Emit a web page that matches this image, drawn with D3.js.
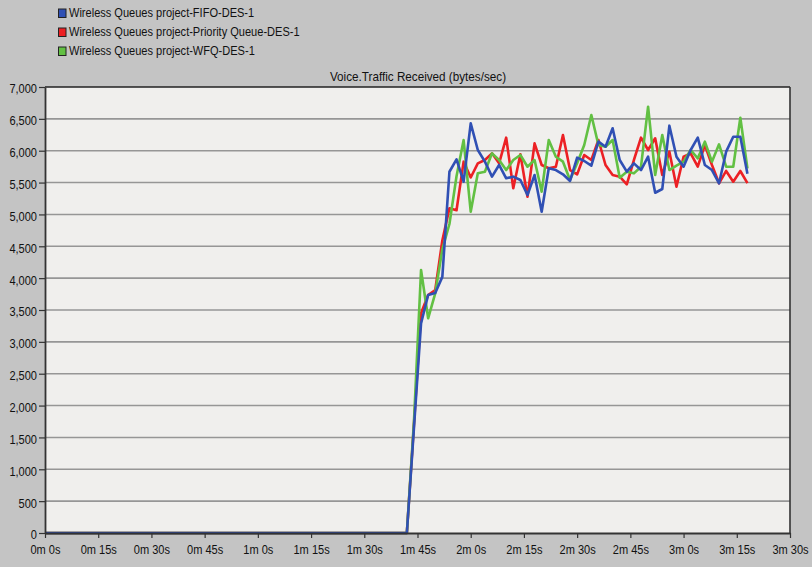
<!DOCTYPE html>
<html>
<head>
<meta charset="utf-8">
<script src="https://cdn.jsdelivr.net/npm/d3@7"></script>
<style>
  html, body { margin: 0; padding: 0; background: #c4c4c4; }
  svg { display: block; }
  text { font-family: "Liberation Sans", Arial, sans-serif; fill: #111; }
</style>
</head>
<body>
<svg id="chart" width="812" height="567"></svg>
<script>
// ---- data ----
const chartTitle = "Voice.Traffic Received (bytes/sec)";
const seriesNames = [
  "Wireless Queues project-FIFO-DES-1",
  "Wireless Queues project-Priority Queue-DES-1",
  "Wireless Queues project-WFQ-DES-1"
];
const seriesColors = ["#3050b4", "#ec2024", "#62c043"];
const times = [0, 102, 104, 106, 108, 110, 112, 114, 116, 118, 120, 122, 124, 126, 128, 130,
  132, 134, 136, 138, 140, 142, 144, 146, 148, 150, 152, 154, 156, 158, 160, 162, 164,
  166, 168, 170, 172, 174, 176, 178, 180, 182, 184, 186, 188, 190, 192, 194, 196, 198];
const fifoValues = [0, 0, 1650, 3290, 3735, 3767, 4020, 5670, 5865, 5514, 6430, 6011, 5828, 5593,
  5776, 5567, 5593, 5540, 5305, 5619, 5043, 5724, 5697, 5630, 5525, 5891, 5839, 5765, 6142,
  6063, 6352, 5854, 5671, 5802, 5697, 5906, 5340, 5399, 6393, 5906, 5749, 6011, 6205, 5776,
  5697, 5488, 5985, 6220, 6220, 5640];
const priorityValues = [0, 0, 1700, 3448, 3735, 3814, 4590, 5096, 5065, 5828, 5580, 5802, 5854,
  5959, 5802, 6205, 5410, 5944, 5278, 6116, 5776, 5724, 5749, 6247, 5697, 5629, 5933, 5854,
  6168, 5776, 5619, 5593, 5473, 5854, 6205, 6011, 6195, 5619, 5985, 5436, 5906, 5959, 5749,
  6090, 5776, 5488, 5682, 5514, 5682, 5490];
const wfqValues = [0, 0, 1750, 4128, 3370, 3762, 4450, 4850, 5600, 6168, 5043, 5645, 5671, 5959,
  5854, 5697, 5854, 5933, 5749, 5854, 5357, 6168, 5906, 5828, 5540, 5802, 6090, 6561, 6090,
  6063, 6168, 5577, 5671, 5645, 5749, 6691, 5619, 6247, 5697, 5765, 5828, 6011, 5880, 6142,
  5828, 6100, 5749, 5749, 6518, 5720];
const xTickValues = [0, 15, 30, 45, 60, 75, 90, 105, 120, 135, 150, 165, 180, 195, 210];
const xTickLabels = ["0m 0s", "0m 15s", "0m 30s", "0m 45s", "1m 0s", "1m 15s", "1m 30s",
  "1m 45s", "2m 0s", "2m 15s", "2m 30s", "2m 45s", "3m 0s", "3m 15s", "3m 30s"];
const yTickValues = [0, 500, 1000, 1500, 2000, 2500, 3000, 3500, 4000, 4500, 5000, 5500, 6000, 6500, 7000];

// ---- layout ----
const SX = 0.85; // condensed text
const plot = { left: 45, right: 790, top: 87, bottom: 533 };
const svg = d3.select("#chart");

const x = d3.scaleLinear().domain([0, 210]).range([plot.left, plot.right]);
const y = d3.scaleLinear().domain([0, 7000]).range([plot.bottom, plot.top]);

// plot background
svg.append("rect")
  .attr("x", plot.left).attr("y", plot.top)
  .attr("width", plot.right - plot.left).attr("height", plot.bottom - plot.top)
  .attr("fill", "#f0efed");

// gridlines
svg.append("g").selectAll("line").data(yTickValues.filter(v => v > 0 && v < 7000)).join("line")
  .attr("x1", plot.left).attr("x2", plot.right)
  .attr("y1", d => y(d)).attr("y2", d => y(d))
  .attr("stroke", "#969696").attr("stroke-width", 1.6);

// series lines
const series = [
  { name: seriesNames[1], color: seriesColors[1], values: priorityValues },
  { name: seriesNames[2], color: seriesColors[2], values: wfqValues },
  { name: seriesNames[0], color: seriesColors[0], values: fifoValues }
];
const line = d3.line().x((d, i) => x(times[i])).y(d => y(d));
svg.append("g").selectAll("path").data(series).join("path")
  .attr("d", s => line(s.values))
  .attr("fill", "none")
  .attr("stroke", s => s.color)
  .attr("stroke-width", 2.6)
  .attr("stroke-linejoin", "round");

// frame top and right
svg.append("line").attr("x1", plot.left).attr("x2", plot.right).attr("y1", plot.top).attr("y2", plot.top)
  .attr("stroke", "#222").attr("stroke-width", 1.6);
svg.append("line").attr("x1", plot.right).attr("x2", plot.right).attr("y1", plot.top).attr("y2", plot.bottom)
  .attr("stroke", "#333").attr("stroke-width", 1.6);

// axes
const yAxis = d3.axisLeft(y).tickValues(yTickValues).tickFormat(d3.format(",")).tickSize(6).tickSizeOuter(0);
const gy = svg.append("g").attr("transform", `translate(${plot.left},0)`).call(yAxis);
gy.select(".domain").attr("stroke", "#333").attr("stroke-width", 1.8);
gy.selectAll(".tick line").attr("stroke", "#333").attr("stroke-width", 1.2);
gy.selectAll(".tick text")
  .attr("font-size", 13).attr("font-family", "Liberation Sans, Arial, sans-serif")
  .attr("fill", "#111")
  .attr("x", -8 / SX).attr("dy", "0.45em")
  .attr("transform", `scale(${SX},1)`);

const xAxis = d3.axisBottom(x).tickValues(xTickValues).tickFormat((d, i) => xTickLabels[i]).tickSize(5).tickSizeOuter(0);
const gx = svg.append("g").attr("transform", `translate(0,${plot.bottom})`).call(xAxis);
gx.select(".domain").attr("stroke", "#333").attr("stroke-width", 1.8);
gx.selectAll(".tick line").attr("stroke", "#333").attr("stroke-width", 1.2);
gx.selectAll(".tick text")
  .attr("font-size", 13).attr("font-family", "Liberation Sans, Arial, sans-serif")
  .attr("fill", "#111")
  .attr("y", 21).attr("dy", 0)
  .attr("transform", `scale(${SX},1)`);

// title
svg.append("text")
  .attr("transform", `translate(418,81) scale(0.9,1)`)
  .attr("text-anchor", "middle")
  .attr("font-size", 13)
  .text(chartTitle);

// legend
const legend = svg.append("g").selectAll("g").data(seriesNames).join("g")
  .attr("transform", (d, i) => `translate(58,${8.5 + i * 19})`);
legend.append("rect")
  .attr("x", 0.5).attr("y", 0.5).attr("width", 7.5).attr("height", 8.5)
  .attr("fill", (d, i) => seriesColors[i])
  .attr("stroke", "#222").attr("stroke-width", 1);
legend.append("text")
  .attr("transform", `translate(11,8.8) scale(${SX},1)`)
  .attr("font-size", 13)
  .text(d => d);
</script>
</body>
</html>
